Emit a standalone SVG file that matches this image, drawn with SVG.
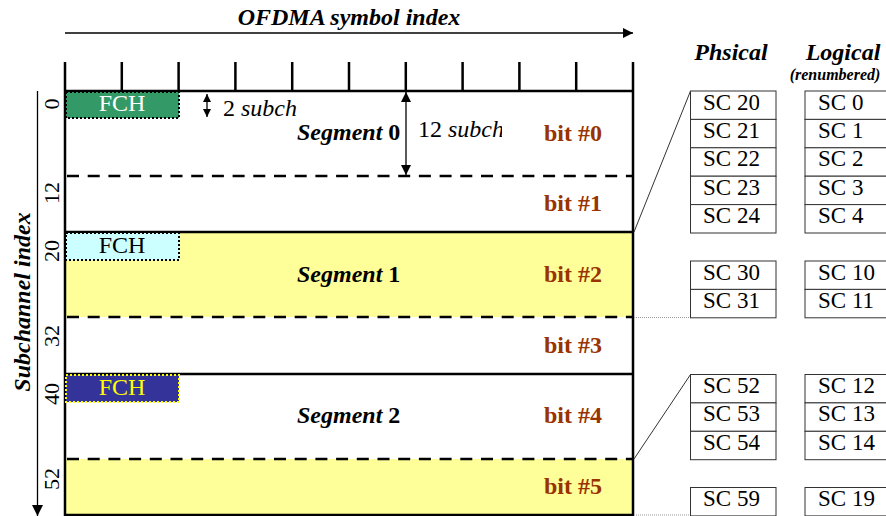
<svg xmlns="http://www.w3.org/2000/svg" width="886" height="516" viewBox="0 0 886 516">
  <defs>
    <style>
      .t { font-family: "Liberation Serif", "Times New Roman", serif; }
      .bi { font-weight: bold; font-style: italic; }
      .num { font-family: "Liberation Serif", serif; font-size: 22px; fill: #000; text-anchor: middle; }
      .seg { font-family: "Liberation Serif", serif; font-size: 24px; font-weight: bold; fill: #000; }
      .bit { font-family: "Liberation Serif", serif; font-size: 24px; font-weight: bold; fill: #993300; }
      .sc { font-family: "Liberation Serif", serif; font-size: 23px; fill: #000; }
      .cell { fill: #fff; stroke: #333; stroke-width: 1; }
      .solid { stroke: #000; stroke-width: 2.5; fill: none; }
      .dash { stroke: #000; stroke-width: 2.5; stroke-dasharray: 12 8.7; fill: none; }
      .fch { stroke-width: 2; stroke-dasharray: 2 2; }
      .fchtxt { font-family: "Liberation Serif", serif; font-size: 24px; text-anchor: middle; }
      .link { stroke: #333; stroke-width: 1; fill: none; }
      .dotted { stroke: #999; stroke-width: 1; stroke-dasharray: 1 1; fill: none; }
    </style>
    <marker id="head" viewBox="0 0 10 10" refX="10" refY="5" markerUnits="userSpaceOnUse" markerWidth="10" markerHeight="10" orient="auto-start-reverse">
      <path d="M0,0 L10,5 L0,10 z" fill="#000"/>
    </marker>
    <marker id="headSmall" viewBox="0 0 10 10" refX="10" refY="5" markerUnits="userSpaceOnUse" markerWidth="8" markerHeight="8" orient="auto-start-reverse">
      <path d="M0,0 L10,5 L0,10 z" fill="#000"/>
    </marker>
    <marker id="headBig" viewBox="0 0 10 10" refX="10" refY="5" markerUnits="userSpaceOnUse" markerWidth="16" markerHeight="11" orient="auto">
      <path d="M0,0 L10,5 L0,10 z" fill="#000"/>
    </marker>
    <!-- text frames that crop their labels on the right -->
    <clipPath id="clipFchSpan"><rect x="200" y="91" width="97" height="30"/></clipPath>
    <clipPath id="clipSegSpan"><rect x="410" y="110" width="92" height="40"/></clipPath>
    <clipPath id="clipSc20"><rect x="690" y="91" width="69.5" height="28"/></clipPath>
    <clipPath id="clipSc30"><rect x="690" y="261" width="71" height="28"/></clipPath>
  </defs>

  <rect x="0" y="0" width="886" height="516" fill="#fff"/>

  <!-- axes and titles -->
  <g id="axis-symbol">
    <text class="t bi" x="349" y="25" font-size="24" text-anchor="middle">OFDMA symbol index</text>
    <line x1="65" y1="33" x2="633" y2="33" stroke="#000" stroke-width="1.3" marker-end="url(#head)"/>
    <path class="solid" stroke-width="2" d="M65,62V91 M121.8,62V91 M178.6,62V91 M235.4,62V91 M292.2,62V91 M349,62V91 M405.8,62V91 M462.6,62V91 M519.4,62V91 M576.2,62V91 M633,62V91"/>
  </g>

  <g id="axis-subchannel">
    <text class="t bi" transform="translate(30,302) rotate(-90)" font-size="24" text-anchor="middle">Subchannel index</text>
    <line x1="37.5" y1="91" x2="37.5" y2="516" stroke="#000" stroke-width="1.3" marker-end="url(#headBig)"/>
    <text class="num" transform="translate(59,104) rotate(-90)">0</text>
    <text class="num" transform="translate(59,193) rotate(-90)">12</text>
    <text class="num" transform="translate(59,251) rotate(-90)">20</text>
    <text class="num" transform="translate(59,336) rotate(-90)">32</text>
    <text class="num" transform="translate(59,394) rotate(-90)">40</text>
    <text class="num" transform="translate(59,479) rotate(-90)">52</text>
  </g>

  <!-- segment bands -->
  <g id="segment0">
    <rect x="65" y="91" width="568" height="141" fill="#fff"/>
    <text class="seg" x="297" y="140"><tspan font-style="italic">Segment</tspan> 0</text>
    <text class="bit" x="544" y="141">bit #0</text>
    <text class="bit" x="544" y="211">bit #1</text>
  </g>

  <g id="segment1">
    <rect x="65" y="232" width="568" height="85" fill="#ffff99"/>
    <rect x="65" y="317" width="568" height="57" fill="#fff"/>
    <text class="seg" x="297" y="282"><tspan font-style="italic">Segment</tspan> 1</text>
    <text class="bit" x="544" y="282">bit #2</text>
    <text class="bit" x="544" y="353">bit #3</text>
  </g>

  <g id="segment2">
    <rect x="65" y="374" width="568" height="85" fill="#fff"/>
    <rect x="65" y="459" width="568" height="57" fill="#ffff99"/>
    <text class="seg" x="297" y="423"><tspan font-style="italic">Segment</tspan> 2</text>
    <text class="bit" x="544" y="423">bit #4</text>
    <text class="bit" x="544" y="494">bit #5</text>
  </g>

  <!-- grid lines -->
  <g id="grid">
    <path class="dash" d="M67,176H633 M67,317H633 M67,459H633"/>
    <path class="solid" d="M65,91H633 M65,232H633 M65,374H633 M65,515H633"/>
    <path class="solid" d="M65,91V516 M633,91V516"/>
  </g>

  <!-- FCH blocks -->
  <g id="fch0">
    <rect class="fch" x="66" y="92" width="113" height="26" fill="#339966" stroke="#000"/>
    <text class="fchtxt" x="122" y="111" fill="#fff">FCH</text>
  </g>
  <g id="fch1">
    <rect class="fch" x="66" y="233" width="113" height="27" fill="#ccffff" stroke="#000"/>
    <text class="fchtxt" x="122" y="253" fill="#000">FCH</text>
  </g>
  <g id="fch2">
    <rect class="fch" x="66" y="375" width="113" height="27" fill="#333399" stroke="#ffff00"/>
    <text class="fchtxt" x="122" y="395" fill="#ffff00">FCH</text>
  </g>

  <!-- span annotations -->
  <g id="span-fch">
    <line x1="207" y1="94" x2="207" y2="117" stroke="#000" stroke-width="1.3" marker-start="url(#headSmall)" marker-end="url(#headSmall)"/>
    <text class="t" x="223" y="116" font-size="24" clip-path="url(#clipFchSpan)">2 <tspan font-style="italic">subch</tspan></text>
  </g>
  <g id="span-segment">
    <line x1="406" y1="92" x2="406" y2="175" stroke="#000" stroke-width="1.3" marker-start="url(#head)" marker-end="url(#head)"/>
    <text class="t" x="418" y="137" font-size="24" clip-path="url(#clipSegSpan)">12 <tspan font-style="italic">subch</tspan></text>
  </g>

  <!-- table headers -->
  <g id="headers">
    <text class="t bi" x="731" y="60" font-size="24" text-anchor="middle">Phsical</text>
    <text class="t bi" x="843" y="60" font-size="24" text-anchor="middle">Logical</text>
    <text class="t bi" x="835" y="80" font-size="16" text-anchor="middle">(renumbered)</text>
  </g>

  <!-- connectors from the grid to the subchannel tables -->
  <g id="connectors">
    <line class="link" x1="634" y1="232" x2="690.5" y2="91"/>
    <line class="dotted" x1="634" y1="317.5" x2="690.5" y2="317.5"/>
    <line class="link" x1="634" y1="459" x2="690.5" y2="374.5"/>
    <line class="dotted" x1="636" y1="515" x2="690.5" y2="515"/>
  </g>

  <!-- subchannel tables: physical and logical columns -->
  <g id="table-a">
    <rect class="cell" x="690.5" y="91" width="85.5" height="28.4"/>
    <rect class="cell" x="690.5" y="119.4" width="85.5" height="28.4"/>
    <rect class="cell" x="690.5" y="147.8" width="85.5" height="28.4"/>
    <rect class="cell" x="690.5" y="176.2" width="85.5" height="28.4"/>
    <rect class="cell" x="690.5" y="204.6" width="85.5" height="28.4"/>
    <text class="sc" x="703" y="109.5" clip-path="url(#clipSc20)">SC 20</text>
    <text class="sc" x="703" y="137.9">SC 21</text>
    <text class="sc" x="703" y="166.3">SC 22</text>
    <text class="sc" x="703" y="194.7">SC 23</text>
    <text class="sc" x="703" y="223.1">SC 24</text>
    <rect class="cell" x="805" y="91" width="85" height="28.4"/>
    <rect class="cell" x="805" y="119.4" width="85" height="28.4"/>
    <rect class="cell" x="805" y="147.8" width="85" height="28.4"/>
    <rect class="cell" x="805" y="176.2" width="85" height="28.4"/>
    <rect class="cell" x="805" y="204.6" width="85" height="28.4"/>
    <text class="sc" x="818" y="109.5">SC 0</text>
    <text class="sc" x="818" y="137.9">SC 1</text>
    <text class="sc" x="818" y="166.3">SC 2</text>
    <text class="sc" x="818" y="194.7">SC 3</text>
    <text class="sc" x="818" y="223.1">SC 4</text>
  </g>

  <g id="table-b">
    <rect class="cell" x="690.5" y="261" width="85.5" height="28.4"/>
    <rect class="cell" x="690.5" y="289.4" width="85.5" height="28.4"/>
    <text class="sc" x="703" y="279.5" clip-path="url(#clipSc30)">SC 30</text>
    <text class="sc" x="703" y="307.9">SC 31</text>
    <rect class="cell" x="805" y="261" width="85" height="28.4"/>
    <rect class="cell" x="805" y="289.4" width="85" height="28.4"/>
    <text class="sc" x="818" y="279.5">SC 10</text>
    <text class="sc" x="818" y="307.9">SC 11</text>
  </g>

  <g id="table-c">
    <rect class="cell" x="690.5" y="374.5" width="85.5" height="28.4"/>
    <rect class="cell" x="690.5" y="402.9" width="85.5" height="28.4"/>
    <rect class="cell" x="690.5" y="431.3" width="85.5" height="28.4"/>
    <text class="sc" x="703" y="393">SC 52</text>
    <text class="sc" x="703" y="421.4">SC 53</text>
    <text class="sc" x="703" y="449.8">SC 54</text>
    <rect class="cell" x="805" y="374.5" width="85" height="28.4"/>
    <rect class="cell" x="805" y="402.9" width="85" height="28.4"/>
    <rect class="cell" x="805" y="431.3" width="85" height="28.4"/>
    <text class="sc" x="818" y="393">SC 12</text>
    <text class="sc" x="818" y="421.4">SC 13</text>
    <text class="sc" x="818" y="449.8">SC 14</text>
  </g>

  <g id="table-d">
    <rect class="cell" x="690.5" y="487.5" width="85.5" height="28.4"/>
    <text class="sc" x="703" y="506">SC 59</text>
    <rect class="cell" x="805" y="487.5" width="85" height="28.4"/>
    <text class="sc" x="818" y="506">SC 19</text>
  </g>
</svg>
